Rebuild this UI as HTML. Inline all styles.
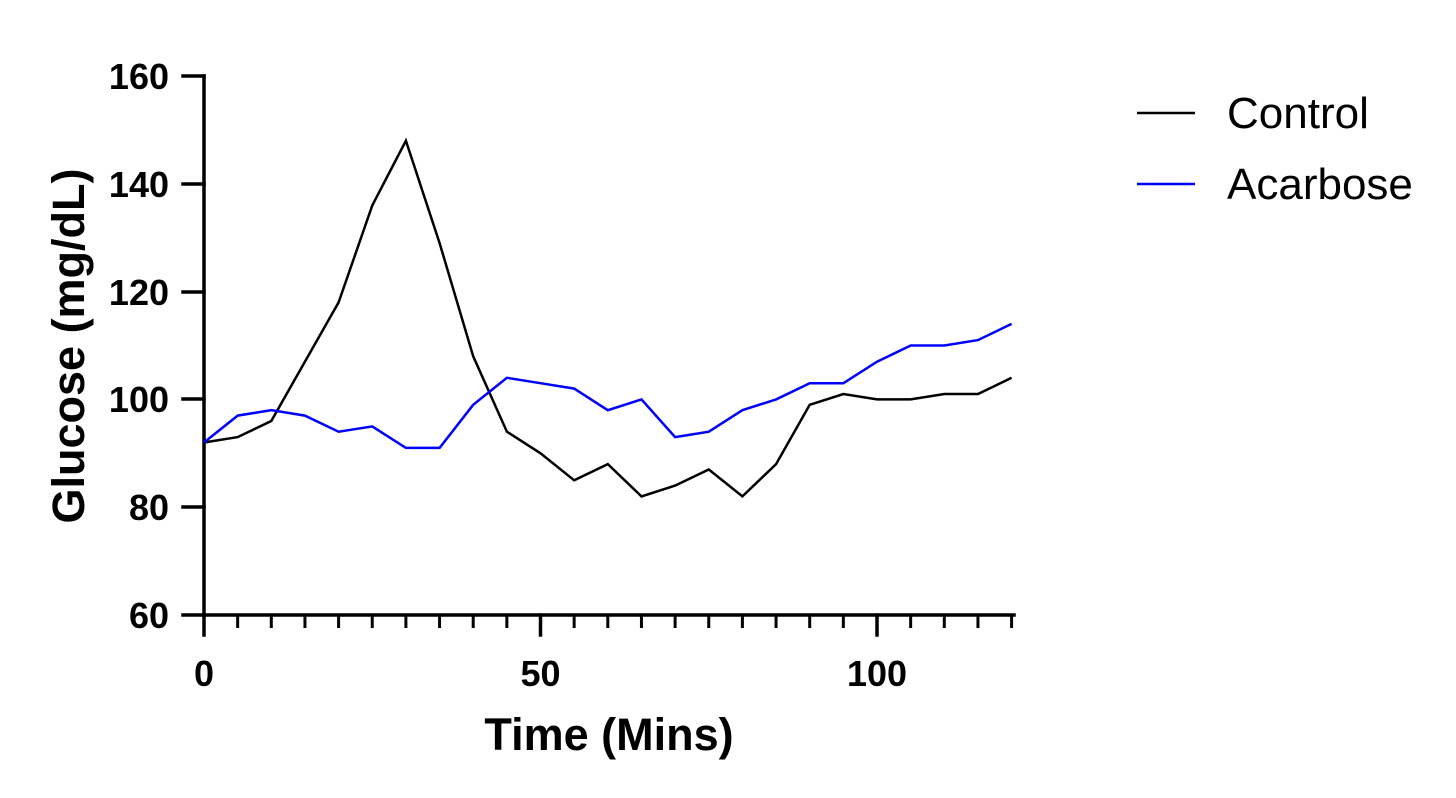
<!DOCTYPE html>
<html><head><meta charset="utf-8"><style>
html,body{margin:0;padding:0;background:#fff;}
svg{display:block;}
</style></head><body>
<svg width="1456" height="798" viewBox="0 0 1456 798" xmlns="http://www.w3.org/2000/svg">
<g stroke="#000" stroke-width="3.5" fill="none" stroke-linecap="square">
<line x1="204" y1="76" x2="204" y2="615"/>
<line x1="204" y1="615" x2="1014" y2="615"/>
<line x1="183" y1="76" x2="204" y2="76"/>
<line x1="183" y1="184" x2="204" y2="184"/>
<line x1="183" y1="292" x2="204" y2="292"/>
<line x1="183" y1="399" x2="204" y2="399"/>
<line x1="183" y1="507" x2="204" y2="507"/>
<line x1="183" y1="615" x2="204" y2="615"/>
<line x1="204" y1="615" x2="204" y2="635"/>
<line x1="540.5" y1="615" x2="540.5" y2="635"/>
<line x1="877" y1="615" x2="877" y2="635"/>
</g>
<g stroke="#000" stroke-width="3" id="minor"></g>
<g font-family="Liberation Sans, sans-serif" font-weight="bold" font-size="36" fill="#000">
<text x="169" y="89" text-anchor="end">160</text>
<text x="169" y="197" text-anchor="end">140</text>
<text x="169" y="305" text-anchor="end">120</text>
<text x="169" y="412" text-anchor="end">100</text>
<text x="169" y="520" text-anchor="end">80</text>
<text x="169" y="628" text-anchor="end">60</text>
<text x="204" y="686" text-anchor="middle">0</text>
<text x="540.5" y="686" text-anchor="middle">50</text>
<text x="877" y="686" text-anchor="middle">100</text>
<text x="609" y="750" text-anchor="middle" font-size="45">Time (Mins)</text>
<text transform="translate(84,346) rotate(-90)" text-anchor="middle" font-size="45">Glucose (mg/dL)</text>
</g>
<polyline id="c" fill="none" stroke="#000" stroke-width="2.5"/>
<polyline id="a" fill="none" stroke="#0000ff" stroke-width="2.5"/>
<line x1="1137" y1="113" x2="1195" y2="113" stroke="#000" stroke-width="2.5"/>
<line x1="1137" y1="184" x2="1195" y2="184" stroke="#0000ff" stroke-width="2.5"/>
<g font-family="Liberation Sans, sans-serif" font-size="44" fill="#000">
<text x="1227" y="128">Control</text>
<text x="1227" y="199">Acarbose</text>
</g>
<script>
var C=[92,93,96,107,118,136,148,129,108,94,90,85,88,82,84,87,82,88,99,101,100,100,101,101,104];
var A=[92,97,98,97,94,95,91,91,99,104,103,102,98,100,93,94,98,100,103,103,107,110,110,111,114];
function X(i){return 204+i*5*6.73;}function Y(v){return 615-(v-60)*5.39;}
function pts(d){return d.map(function(v,i){return X(i).toFixed(1)+","+Y(v).toFixed(1)}).join(" ");}
document.getElementById('c').setAttribute('points',pts(C));
document.getElementById('a').setAttribute('points',pts(A));
var g=document.getElementById('minor');
for(var i=1;i<=24;i++){if(i%10==0)continue;var l=document.createElementNS('http://www.w3.org/2000/svg','line');
l.setAttribute('x1',X(i));l.setAttribute('x2',X(i));l.setAttribute('y1',615);l.setAttribute('y2',628);g.appendChild(l);}
</script>
</svg>
</body></html>
